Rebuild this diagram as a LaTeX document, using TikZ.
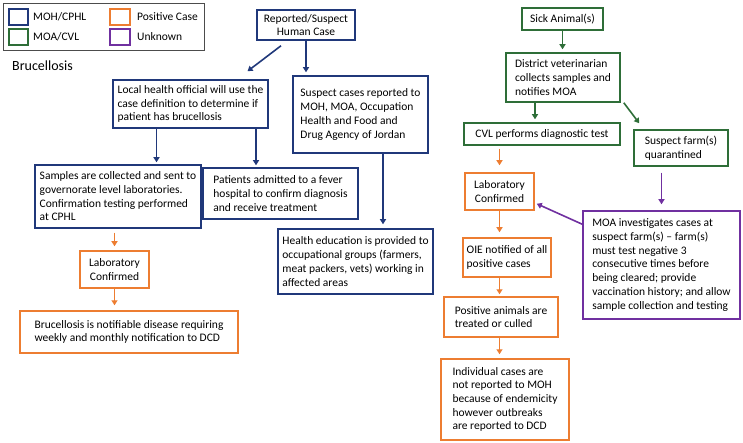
\documentclass[tikz,border=0pt]{standalone}
\usepackage{fontspec}
\setmainfont{Carlito}
\usetikzlibrary{arrows.meta}
\definecolor{mohblue}{RGB}{32,56,122}
\definecolor{moagreen}{RGB}{46,110,56}
\definecolor{posorange}{RGB}{237,125,49}
\definecolor{unkpurple}{RGB}{112,48,160}
\tikzset{
  box/.style={draw,line width=1.5pt,align=left,inner sep=3pt,font=\fontsize{11.5}{13.7}\selectfont},
  mohbox/.style={box,draw=mohblue},
  moabox/.style={box,draw=moagreen},
  posbox/.style={box,draw=posorange},
  unkbox/.style={box,draw=unkpurple},
  link/.style={line width=1.6pt,-{Triangle[width=6pt,length=5pt]}},
  keybox/.style={line width=1.5pt},
  keytext/.style={anchor=west,inner sep=0pt,font=\fontsize{11.5}{13}\selectfont}
}
\begin{document}
\begin{tikzpicture}[x=1pt,y=-1pt]
  \useasboundingbox (0,0) rectangle (743,443);
  %% legend
  \draw[line width=0.8pt,black!70] (3,3) rectangle (204,50);
  \draw[keybox,mohblue] (9,9) rectangle (28,25);
  \draw[keybox,moagreen] (9,29) rectangle (28,45);
  \draw[keybox,posorange] (110,9) rectangle (130,25);
  \draw[keybox,unkpurple] (110,29) rectangle (130,45);
  \node[keytext] (kmoh) at (33,17) {MOH/CPHL};
  \node[keytext] (kmoa) at (33,37) {MOA/CVL};
  \node[keytext] (kpos) at (137,17) {Positive Case};
  \node[keytext] (kunk) at (137,37) {Unknown};
  \node[keytext,font=\fontsize{14}{16}\selectfont] (title) at (12,66) {Brucellosis};
  %% human side
  \node[mohbox,align=center,minimum width=98pt,minimum height=30pt] (rep) at (306,25) {Reported/Suspect\\Human Case};
  \node[mohbox,minimum width=155pt,minimum height=48pt] (local) at (190.5,104) {Local health official will use the\\case definition to determine if\\patient has brucellosis};
  \node[mohbox,minimum width=135pt,minimum height=77pt] (susp) at (360.5,114.5) {Suspect cases reported to\\MOH, MOA, Occupation\\Health and Food and\\Drug Agency of Jordan};
  \node[mohbox,minimum width=166pt,minimum height=63pt] (samples) at (118,196.5) {Samples are collected and sent to\\governorate level laboratories.\\Confirmation testing performed\\at CPHL};
  \node[mohbox,minimum width=155pt,minimum height=51pt] (patients) at (280.5,193.5) {Patients admitted to a fever\\hospital to confirm diagnosis\\and receive treatment};
  \node[mohbox,minimum width=155pt,minimum height=65pt] (health) at (355.5,261.5) {Health education is provided to\\occupational groups (farmers,\\meat packers, vets) working in\\affected areas};
  \node[posbox,align=center,minimum width=69pt,minimum height=37pt] (labh) at (114.5,269.5) {Laboratory\\Confirmed};
  \node[posbox,minimum width=218pt,minimum height=42pt] (notif) at (129,332) {Brucellosis is notifiable disease requiring\\weekly and monthly notification to DCD};
  %% animal side
  \node[moabox,align=center,minimum width=81pt,minimum height=22pt] (sick) at (562.5,19) {Sick Animal(s)};
  \node[moabox,minimum width=114pt,minimum height=49pt] (dist) at (563,77.5) {District veterinarian\\collects samples and\\notifies MOA};
  \node[moabox,minimum width=156pt,minimum height=22pt] (cvl) at (542,134) {CVL performs diagnostic test};
  \node[moabox,minimum width=94pt,minimum height=36pt] (farm) at (681,148) {Suspect farm(s)\\quarantined};
  \node[posbox,align=center,minimum width=69pt,minimum height=37pt] (laba) at (499.5,191.5) {Laboratory\\Confirmed};
  \node[unkbox,minimum width=157pt,minimum height=108pt] (inv) at (661.5,265) {MOA investigates cases at\\suspect farm(s) -- farm(s)\\must test negative 3\\consecutive times before\\being cleared; provide\\vaccination history; and allow\\sample collection and testing};
  \node[posbox,minimum width=88pt,minimum height=39pt] (oie) at (507,257.5) {OIE notified of all\\positive cases};
  \node[posbox,minimum width=114pt,minimum height=40pt] (cull) at (501,317) {Positive animals are\\treated or culled};
  \node[posbox,minimum width=128pt,minimum height=81pt] (indiv) at (505,399.5) {Individual cases are\\not reported to MOH\\because of endemicity\\however outbreaks\\are reported to DCD};
  %% arrows, human side
  \draw[link,mohblue] ([xshift=-25pt,yshift=-5pt]rep.south) -- ([xshift=57pt,yshift=8pt]local.north);
  \draw[link,mohblue,shorten >=3pt] (rep.south) -- (rep.south |- susp.north);
  \draw[link,mohblue,shorten >=2pt] ([xshift=-34pt]local.south) -- ([xshift=-34pt]local.south |- samples.north);
  \draw[link,mohblue,shorten >=2pt] ([xshift=65.5pt]local.south) -- ([xshift=65.5pt]local.south |- patients.north);
  \draw[link,mohblue,shorten >=4pt] ([xshift=22.5pt]susp.south) -- ([xshift=22.5pt]susp.south |- health.north);
  \draw[link,posorange,shorten <=4pt,shorten >=4pt] (samples.south -| labh.north) -- (labh.north);
  \draw[link,posorange,shorten >=5pt] (labh.south) -- (notif.north -| labh.south);
  %% arrows, animal side
  \draw[link,moagreen,shorten >=3pt] (sick.south) -- (sick.south |- dist.north);
  \draw[link,moagreen,shorten >=3pt] ([xshift=-28pt]dist.south) -- ([xshift=-28pt]dist.south |- cvl.north);
  \draw[link,moagreen] ([xshift=3pt]dist.south east) -- ([xshift=6pt,yshift=6pt]farm.north west);
  \draw[link,posorange,shorten <=3pt,shorten >=7pt] (cvl.south -| laba.north) -- (laba.north);
  \draw[link,unkpurple,shorten <=6pt,shorten >=6pt] (farm.south -| inv.north) -- (inv.north);
  \draw[link,unkpurple] ([yshift=-14pt]inv.north west) -- ([xshift=2pt,yshift=7pt]laba.south east);
  \draw[link,posorange,shorten >=5pt] (laba.south) -- (oie.north -| laba.south);
  \draw[link,posorange,shorten >=2pt] (oie.south -| laba.south) -- (cull.north -| laba.south);
  \draw[link,posorange,shorten >=4pt] (cull.south -| laba.south) -- (indiv.north -| laba.south);
\end{tikzpicture}
\end{document}
